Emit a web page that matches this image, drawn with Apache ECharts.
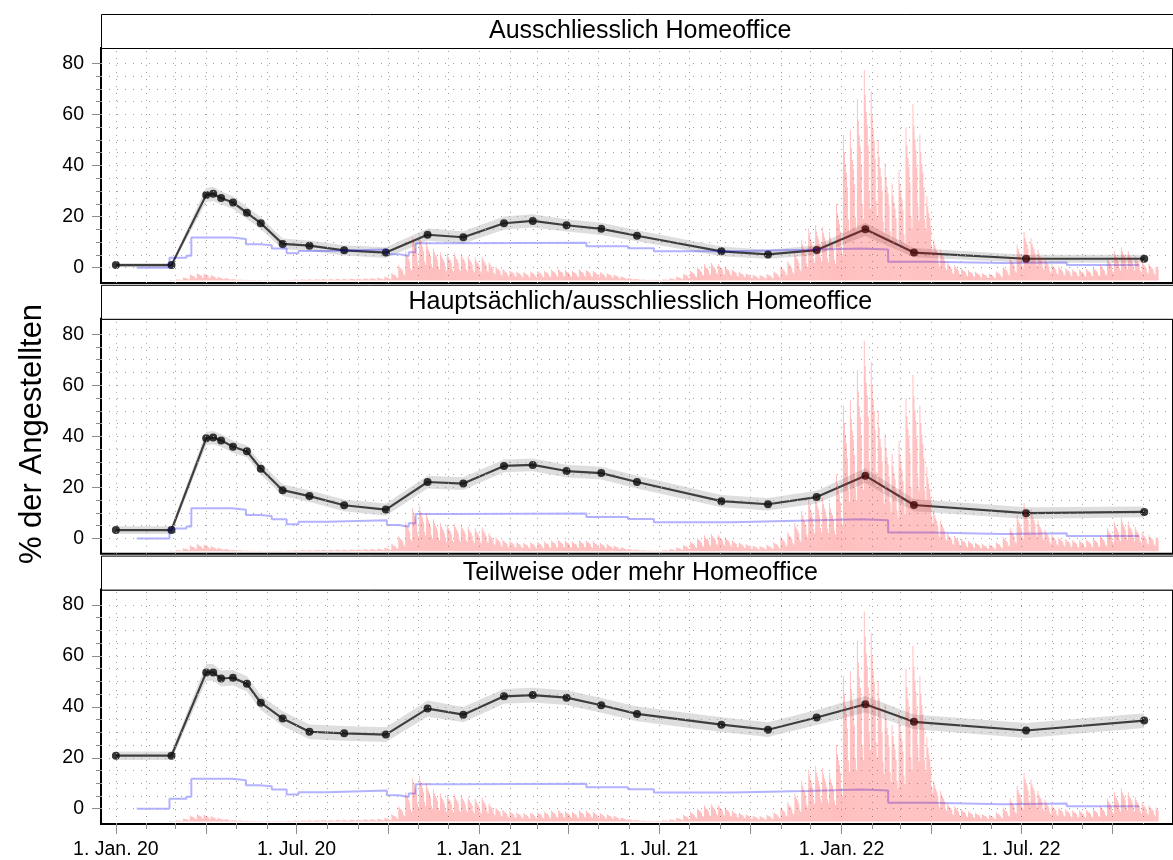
<!DOCTYPE html>
<html>
<head>
<meta charset="utf-8">
<script src="https://cdn.jsdelivr.net/npm/echarts@6/dist/echarts.min.js"></script>
<style>html,body{margin:0;padding:0;background:#fff}#chart{width:1173px;height:860px}</style>
</head>
<body>
<div id="chart"></div>
<script>
// ---------------- DATA ----------------
const panelTitles = ['Ausschliesslich Homeoffice', 'Hauptsächlich/ausschliesslich Homeoffice', 'Teilweise oder mehr Homeoffice'];
const yAxisTitle = '% der Angestellten';

const surveyDates = ['2020-01-01','2020-02-26','2020-04-01','2020-04-08','2020-04-16','2020-04-28','2020-05-12','2020-05-26','2020-06-17','2020-07-14','2020-08-18','2020-09-29','2020-11-10','2020-12-16','2021-01-26','2021-02-24','2021-03-30','2021-05-04','2021-06-09','2021-09-02','2021-10-19','2021-12-07','2022-01-25','2022-03-15','2022-07-06','2022-11-02'];

const exclusiveHO   = [1.0,1.0,28.5,28.9,27.3,25.5,21.5,17.4,9.3,8.6,6.8,5.9,12.9,11.9,17.4,18.3,16.6,15.2,12.5,6.4,5.2,6.9,15.0,5.9,3.5,3.5];
const exclusiveCI   = [0.8,0.8,2.8,2.8,2.6,2.5,2.4,2.3,2.1,2.0,2.0,2.1,2.4,2.4,2.6,2.6,2.4,2.4,2.2,1.9,1.8,1.9,2.6,1.8,1.6,1.6];
const mainlyHO      = [3.3,3.3,39.2,39.5,38.4,35.9,34.1,27.3,18.9,16.6,13.0,11.3,22.1,21.5,28.4,28.8,26.4,25.6,22.1,14.6,13.4,16.2,24.6,13.1,9.9,10.4];
const mainlyCI      = [1.5,1.5,2.6,2.6,2.5,2.4,2.3,2.3,2.3,2.3,2.3,2.4,2.5,2.5,2.5,2.5,2.5,2.5,2.5,2.4,2.4,2.5,2.9,2.4,2.3,2.1];
const partlyHO      = [20.8,20.8,53.5,53.5,51.1,51.4,49.0,41.6,35.4,30.2,29.6,29.1,39.3,36.9,44.1,44.6,43.6,40.6,37.2,33.0,31.0,35.8,41.0,34.1,30.7,34.6];
const partlyCI      = [1.7,1.7,3.3,3.3,3.1,3.0,3.0,2.9,2.9,2.9,2.9,2.9,3.2,3.0,2.9,2.9,2.9,2.9,2.9,2.9,2.9,2.9,3.2,2.9,2.9,2.9];

// Stringency (step line, value holds from the date on)
const stringencyDates  = ['2020-01-22','2020-02-24','2020-03-12','2020-03-17','2020-04-27','2020-05-11','2020-05-25','2020-06-06','2020-06-21','2020-07-03','2020-08-01','2020-09-30','2020-10-12','2020-10-22','2020-10-29','2020-12-10','2021-04-19','2021-05-31','2021-06-26','2021-09-13','2021-11-26','2022-01-21','2022-02-17','2022-04-01','2022-06-12','2022-08-16','2022-10-28'];
const stringencyValues = [0,3.9,4.7,11.8,11.2,9.2,8.8,7.5,5.6,6.5,7.1,5.3,4.6,6.0,9.6,9.8,8.4,7.6,6.4,7.0,7.5,7.1,2.3,1.8,2.0,1.0,1.0];

// Daily case index (height above the bar baseline), one row per week, weeks start Monday 2020-02-24
const casesStartDate = '2020-02-24';
const casesBaseline = -5;
const casesByWeek = [
[0.2,0.2,0.2,0.1,0.1,0.1,0.1],[0.5,0.4,0.4,0.4,0.3,0.2,0.2],[1.2,1.1,1,0.9,0.8,0.5,0.4],[2.3,2,1.8,1.7,1.5,1,0.8],
[2.8,2.5,2.2,2.1,1.8,1.2,1],[2.6,2.3,2.1,1.9,1.7,1.1,0.9],[2,1.8,1.6,1.5,1.3,0.8,0.7],[1.4,1.2,1.1,1,0.9,0.6,0.5],
[1,0.9,0.8,0.7,0.6,0.4,0.3],[0.6,0.5,0.5,0.4,0.4,0.3,0.2],[0.4,0.4,0.3,0.3,0.3,0.2,0.1],[0.3,0.3,0.2,0.2,0.2,0.1,0.1],
[0.2,0.2,0.2,0.1,0.1,0.1,0.1],[0.2,0.2,0.2,0.1,0.1,0.1,0.1],[0.2,0.2,0.2,0.1,0.1,0.1,0.1],[0.2,0.2,0.2,0.1,0.1,0.1,0.1],
[0.2,0.2,0.2,0.1,0.1,0.1,0.1],[0.3,0.3,0.2,0.2,0.2,0.1,0.1],[0.4,0.4,0.3,0.3,0.3,0.2,0.1],[0.5,0.4,0.4,0.4,0.3,0.2,0.2],
[0.5,0.4,0.4,0.4,0.3,0.2,0.2],[0.6,0.5,0.5,0.4,0.4,0.3,0.2],[0.6,0.5,0.5,0.4,0.4,0.3,0.2],[0.6,0.5,0.5,0.4,0.4,0.3,0.2],
[0.7,0.6,0.6,0.5,0.4,0.3,0.2],[0.7,0.6,0.6,0.5,0.4,0.3,0.2],[0.8,0.7,0.6,0.6,0.5,0.3,0.3],[0.8,0.7,0.6,0.6,0.5,0.3,0.3],
[0.9,0.8,0.7,0.7,0.6,0.4,0.3],[1,0.9,0.8,0.7,0.6,0.4,0.3],[1.1,1,0.9,0.8,0.7,0.5,0.4],[1.5,1.3,1.2,1.1,1,0.6,0.5],
[2.8,2.5,2.2,2.1,1.8,1.2,1],[6,5.3,4.8,4.4,3.8,2.5,2],[11.5,10.1,9.2,8.5,7.4,4.8,3.9],[17,15,13.6,12.6,10.9,7.1,5.8],
[17.8,15.7,14.2,13.2,11.4,7.5,6.1],[15,13.2,12,11.1,9.6,6.3,5.1],[12.5,11,10,9.3,8,5.3,4.3],[11,9.7,8.8,8.1,7,4.6,3.7],
[10.5,9.2,8.4,7.8,6.7,4.4,3.6],[10.8,9.5,8.6,8,6.9,4.5,3.7],[10.5,9.2,8.4,7.8,6.7,4.4,3.6],[9.5,8.4,7.6,7,6.1,4,3.2],
[9,7.9,7.2,6.7,5.8,3.8,3.1],[9.3,8.2,7.4,6.9,6,3.9,3.2],[7,6.2,5.6,5.2,4.5,2.9,2.4],[5.5,4.8,4.4,4.1,3.5,2.3,1.9],
[4.5,4,3.6,3.3,2.9,1.9,1.5],[4,3.5,3.2,3,2.6,1.7,1.4],[3.5,3.1,2.8,2.6,2.2,1.5,1.2],[3.3,2.9,2.6,2.4,2.1,1.4,1.1],
[3.5,3.1,2.8,2.6,2.2,1.5,1.2],[3.6,3.2,2.9,2.7,2.3,1.5,1.2],[3.8,3.3,3,2.8,2.4,1.6,1.3],[4.2,3.7,3.4,3.1,2.7,1.8,1.4],
[4.4,3.9,3.5,3.3,2.8,1.8,1.5],[4,3.5,3.2,3,2.6,1.7,1.4],[3.8,3.3,3,2.8,2.4,1.6,1.3],[4.3,3.8,3.4,3.2,2.8,1.8,1.5],
[4.2,3.7,3.4,3.1,2.7,1.8,1.4],[3.8,3.3,3,2.8,2.4,1.6,1.3],[3.3,2.9,2.6,2.4,2.1,1.4,1.1],[2.8,2.5,2.2,2.1,1.8,1.2,1],
[2.2,1.9,1.8,1.6,1.4,0.9,0.7],[1.6,1.4,1.3,1.2,1,0.7,0.5],[1,0.9,0.8,0.7,0.6,0.4,0.3],[0.7,0.6,0.6,0.5,0.4,0.3,0.2],
[0.4,0.4,0.3,0.3,0.3,0.2,0.1],[0.3,0.3,0.2,0.2,0.2,0.1,0.1],[0.3,0.3,0.2,0.2,0.2,0.1,0.1],[0.5,0.4,0.4,0.4,0.3,0.2,0.2],
[0.9,0.8,0.7,0.7,0.6,0.4,0.3],[1.5,1.3,1.2,1.1,1,0.6,0.5],[2.5,2.2,2,1.9,1.6,1.1,0.9],[3.8,3.3,3,2.8,2.4,1.6,1.3],
[5.2,4.6,4.2,3.8,3.3,2.2,1.8],[6.3,5.5,5,4.7,4,2.6,2.1],[6.8,6,5.4,5,4.4,2.9,2.3],[6.5,5.7,5.2,4.8,4.2,2.7,2.2],
[5.5,4.8,4.4,4.1,3.5,2.3,1.9],[4.3,3.8,3.4,3.2,2.8,1.8,1.5],[3.4,3,2.7,2.5,2.2,1.4,1.2],[2.7,2.4,2.2,2,1.7,1.1,0.9],
[2.2,1.9,1.8,1.6,1.4,0.9,0.7],[2,1.8,1.6,1.5,1.3,0.8,0.7],[2.5,2.2,2,1.9,1.6,1.1,0.9],[3.5,3.1,2.8,2.6,2.2,1.5,1.2],
[5.5,4.8,4.4,4.1,3.5,2.3,1.9],[7.5,6.6,6,5.6,4.8,3.2,2.6],[11,9.7,8.8,8.1,7,4.6,3.7],[15.8,13.9,12.6,11.7,10.1,6.6,5.4],
[20.4,18,16.3,15.1,13.1,8.6,6.9],[21.7,19.1,17.4,16.1,13.9,9.1,7.4],[21,18.5,16.8,15.5,13.4,8.8,7.1],[19,16.7,15.2,14.1,12.2,8,6.5],
[30,26.4,24,22.2,19.2,12.6,10.2],[57,50.2,45.6,42.2,36.5,23.9,19.4],[59,51.9,47.2,43.7,37.8,24.8,20.1],[71,62.5,56.8,52.5,45.4,29.8,24.1],
[82.4,72.5,65.9,61,52.7,34.6,28],[74,65.1,59.2,54.8,47.4,31.1,25.2],[55,48.4,44,40.7,35.2,23.1,18.7],[46,40.5,36.8,34,29.4,19.3,15.6],
[38,33.4,30.4,28.1,24.3,16,12.9],[43,37.8,34.4,31.8,27.5,18.1,14.6],[60,52.8,48,44.4,38.4,25.2,20.4],[69,60.7,55.2,51.1,44.2,29,23.5],
[57,50.2,45.6,42.2,36.5,23.9,19.4],[33,29,26.4,24.4,21.1,13.9,11.2],[16,14.1,12.8,11.8,10.2,6.7,5.4],[12,10.6,9.6,8.9,7.7,5,4.1],
[7,6.2,5.6,5.2,4.5,2.9,2.4],[6,5.3,4.8,4.4,3.8,2.5,2],[4.8,4.2,3.8,3.6,3.1,2,1.6],[4,3.5,3.2,3,2.6,1.7,1.4],
[3.4,3,2.7,2.5,2.2,1.4,1.2],[2.8,2.5,2.2,2.1,1.8,1.2,1],[2.6,2.3,2.1,1.9,1.7,1.1,0.9],[3.5,3.1,2.8,2.6,2.2,1.5,1.2],
[5.5,4.8,4.4,4.1,3.5,2.3,1.9],[9,7.9,7.2,6.7,5.8,3.8,3.1],[14,12.3,11.2,10.4,9,5.9,4.8],[19,16.7,15.2,14.1,12.2,8,6.5],
[16.5,14.5,13.2,12.2,10.6,6.9,5.6],[12,10.6,9.6,8.9,7.7,5,4.1],[8.5,7.5,6.8,6.3,5.4,3.6,2.9],[6.5,5.7,5.2,4.8,4.2,2.7,2.2],
[5.5,4.8,4.4,4.1,3.5,2.3,1.9],[4.8,4.2,3.8,3.6,3.1,2,1.6],[4.3,3.8,3.4,3.2,2.8,1.8,1.5],[4.3,3.8,3.4,3.2,2.8,1.8,1.5],
[4.5,4,3.6,3.3,2.9,1.9,1.5],[5,4.4,4,3.7,3.2,2.1,1.7],[6,5.3,4.8,4.4,3.8,2.5,2],[9,7.9,7.2,6.7,5.8,3.8,3.1],
[11.5,10.1,9.2,8.5,7.4,4.8,3.9],[13,11.4,10.4,9.6,8.3,5.5,4.4],[11.5,10.1,9.2,8.5,7.4,4.8,3.9],[9.5,8.4,7.6,7,6.1,4,3.2],
[7.5,6.6,6,5.6,4.8,3.2,2.6],[6.5,5.7,5.2,4.8,4.2,2.7,2.2],[5.5,4.8,4.4]
];

const yTickValues = [0,20,40,60,80];
const xTickDates  = ['2020-01-01','2020-07-01','2021-01-01','2021-07-01','2022-01-01','2022-07-01'];
const xTickLabels = ['1. Jan. 20','1. Jul. 20','1. Jan. 21','1. Jul. 21','1. Jan. 22','1. Jul. 22'];

// ---------------- LAYOUT ----------------
const FONT = '"Liberation Sans", Arial, sans-serif';
const Y_MIN = -6, Y_MAX = 86;
const PANEL_TOPS = [48, 318.8, 589.6], PANEL_H = 235, GRID_LEFT = 101, GRID_W = 1078.5, STRIP_H = 34;

function ts(s){ const [y,m,d] = s.split('-').map(Number); return new Date(y, m-1, d).getTime(); }
const X_MIN = ts('2019-12-17'), X_MAX = ts('2022-12-01');

const monthStarts = [];
for (let y = 2020; y <= 2022; y++) for (let m = 0; m < 12; m++) { if (y === 2022 && m > 10) break; monthStarts.push(new Date(y, m, 1).getTime()); }
const minorTickVals = monthStarts.filter(t => t <= ts('2022-10-01'));
const majorTickVals = minorTickVals.filter(t => new Date(t).getMonth() % 3 === 0);
const labelVals = xTickDates.map(ts);

const [cy, cm, cd] = casesStartDate.split('-').map(Number);
const casesDaily = casesByWeek.flat();
const casesData = casesDaily.map((v, i) => [new Date(cy, cm-1, cd + i).getTime(), v]);
const stringencyData = stringencyDates.map((d, i) => [ts(d), stringencyValues[i]]);
const surveyX = surveyDates.map(ts);

const hGrid = []; for (let v = 0; v <= 80; v += 5) hGrid.push({ yAxis: v });
const vGrid = monthStarts.map(t => ({ xAxis: t }));

const panels = [[exclusiveHO, exclusiveCI], [mainlyHO, mainlyCI], [partlyHO, partlyCI]];

const grids = [], xAxes = [], yAxes = [], series = [], graphics = [];
const tickStyle = { color: '#8c8c8c', width: 1 };
panels.forEach(([vals, hw], p) => {
  const top = PANEL_TOPS[p];
  const bottom = p === 2;
  grids.push({ left: GRID_LEFT, top: top, width: GRID_W, height: PANEL_H, show: true, borderColor: '#000', borderWidth: 2, backgroundColor: 'rgba(0,0,0,0)' });
  xAxes.push({ gridIndex: p, type: 'value', min: X_MIN, max: X_MAX, scale: true, position: 'bottom',
    axisLine: { show: false, onZero: false }, splitLine: { show: false },
    axisTick: { show: bottom, customValues: majorTickVals, length: 10, lineStyle: tickStyle },
    axisLabel: { show: bottom, customValues: labelVals, fontSize: 19.5, fontFamily: FONT, color: '#000', margin: 16,
      formatter: v => { const i = labelVals.indexOf(v); return i >= 0 ? xTickLabels[i] : ''; } } });
  xAxes.push({ gridIndex: p, type: 'value', min: X_MIN, max: X_MAX, scale: true, position: 'bottom',
    axisLine: { show: false, onZero: false }, splitLine: { show: false },
    axisTick: { show: bottom, customValues: minorTickVals, length: 5, lineStyle: tickStyle },
    axisLabel: { show: false } });
  yAxes.push({ gridIndex: p, type: 'value', min: Y_MIN, max: Y_MAX, position: 'left',
    axisLine: { show: false, onZero: false }, splitLine: { show: false },
    axisTick: { show: true, customValues: yTickValues, length: 9, lineStyle: tickStyle },
    axisLabel: { show: true, customValues: yTickValues, fontSize: 19.5, fontFamily: FONT, color: '#000', margin: 17 } });
  yAxes.push({ gridIndex: p, type: 'value', min: Y_MIN, max: Y_MAX, position: 'left',
    axisLine: { show: false, onZero: false }, splitLine: { show: false },
    axisTick: { show: true, customValues: hGrid.map(o => o.yAxis), length: 5, lineStyle: tickStyle },
    axisLabel: { show: false } });
  yAxes.push({ gridIndex: p, type: 'value', min: Y_MIN - casesBaseline, max: Y_MAX - casesBaseline, show: false });

  const xi = 2 * p, yi = 3 * p;
  // dotted grid (hosted on invisible lines)
  series.push({ type: 'line', xAxisIndex: xi, yAxisIndex: yi, silent: true, z: 1,
    data: surveyX.map((d, i) => [d, vals[i]]), symbol: 'none', lineStyle: { opacity: 0 },
    markLine: { silent: true, symbol: ['none', 'none'], label: { show: false }, animation: false,
      lineStyle: { color: '#a0a0a0', width: 1, type: [1, 7] }, emphasis: { disabled: true }, data: hGrid } });
  series.push({ type: 'line', xAxisIndex: xi, yAxisIndex: yi, silent: true, z: 1,
    data: surveyX.map((d, i) => [d, vals[i]]), symbol: 'none', lineStyle: { opacity: 0 },
    markLine: { silent: true, symbol: ['none', 'none'], label: { show: false }, animation: false,
      lineStyle: { color: '#a0a0a0', width: 1, type: [1, 6] }, emphasis: { disabled: true }, data: vGrid } });
  // confidence ribbon
  series.push({ type: 'custom', xAxisIndex: xi, yAxisIndex: yi, silent: true, z: 2,
    data: [[surveyX[0], vals[0]]],
    renderItem: (params, api) => {
      const up = surveyX.map((x, i) => api.coord([x, vals[i] + hw[i]]));
      const lo = surveyX.map((x, i) => api.coord([x, vals[i] - hw[i]])).reverse();
      return { type: 'polygon', shape: { points: up.concat(lo) }, style: { fill: 'rgba(0,0,0,0.13)' } };
    } });
  series.push({ type: 'line', xAxisIndex: xi, yAxisIndex: yi, z: 3, silent: true,
    data: surveyX.map((d, i) => [d, vals[i]]), symbol: 'circle', symbolSize: 8,
    itemStyle: { color: 'rgba(20,20,20,0.85)' }, lineStyle: { color: 'rgba(0,0,0,0.72)', width: 2.2 } });
  series.push({ type: 'line', xAxisIndex: xi, yAxisIndex: yi, z: 4, silent: true, step: 'end',
    data: stringencyData, symbol: 'none', lineStyle: { color: 'rgba(0,0,255,0.3)', width: 2 } });
  series.push({ type: 'bar', xAxisIndex: xi, yAxisIndex: yi + 2, z: 5, silent: true, barWidth: 1,
    data: casesData, itemStyle: { color: 'rgba(255,0,0,0.25)' } });

  const stripTop = top - STRIP_H;
  graphics.push({ type: 'rect', shape: { x: GRID_LEFT + 0.5, y: stripTop + 0.5, width: GRID_W + 10, height: STRIP_H }, style: { fill: '#fff', stroke: '#000', lineWidth: 1 }, z: 0 });
  graphics.push({ type: 'text', x: GRID_LEFT + GRID_W / 2, y: stripTop + 17.5, style: { text: panelTitles[p], fontSize: 25, fontFamily: FONT, fill: '#000', align: 'center', verticalAlign: 'middle' }, z: 1 });
});
graphics.push({ type: 'text', x: 32, y: 434, rotation: Math.PI / 2, style: { text: yAxisTitle, fontSize: 31, fontFamily: FONT, fill: '#000', align: 'center', verticalAlign: 'middle' } });

const chart = echarts.init(document.getElementById('chart'), null, { renderer: 'canvas' });
chart.setOption({
  animation: false,
  backgroundColor: '#fff',
  grid: grids, xAxis: xAxes, yAxis: yAxes, series: series, graphic: graphics
});
</script>
</body>
</html>
